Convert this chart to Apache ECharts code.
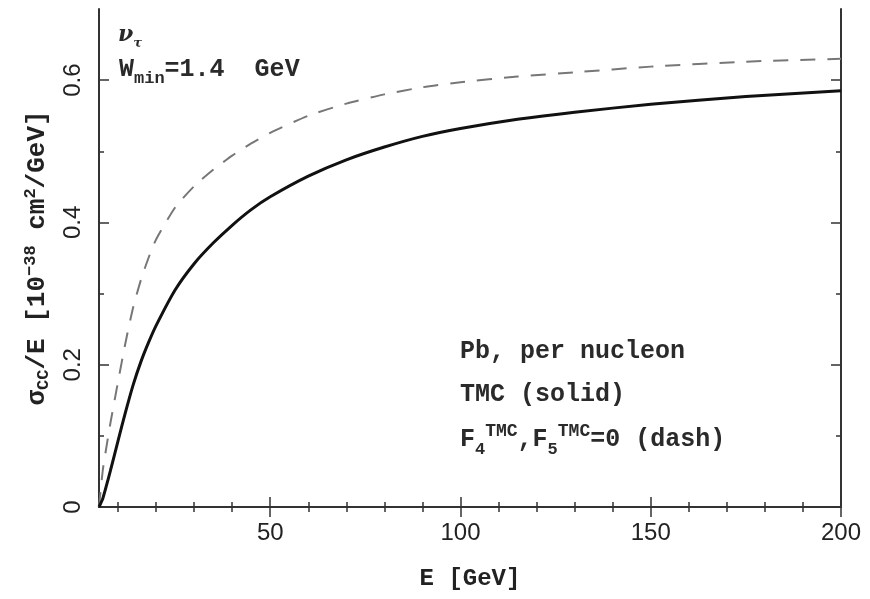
<!DOCTYPE html>
<html>
<head>
<meta charset="utf-8">
<script src="https://cdn.jsdelivr.net/npm/echarts@6/dist/echarts.min.js"></script>
<style>
  html, body { margin: 0; padding: 0; background: #fff; }
  #chart { width: 870px; height: 599px; }
</style>
</head>
<body>
<div id="chart"></div>
<script>
// neutrino energy E [GeV]
var energy = [5, 6, 7, 8, 10, 12, 14, 16, 18, 20, 25, 30, 35, 40, 45, 50, 60, 70, 80, 90, 100, 115, 130, 150, 175, 200];
// TMC (solid)
var tmcSolid = [0, 0.012, 0.031, 0.051, 0.093, 0.134, 0.172, 0.204, 0.231, 0.255, 0.305, 0.342, 0.371, 0.396, 0.418, 0.436, 0.465, 0.488, 0.506, 0.521, 0.532, 0.545, 0.555, 0.566, 0.577, 0.585];
// F4, F5 TMC = 0 (dash)
var f45Dash = [0, 0.052, 0.086, 0.118, 0.176, 0.232, 0.281, 0.319, 0.350, 0.376, 0.421, 0.451, 0.474, 0.494, 0.511, 0.526, 0.550, 0.567, 0.580, 0.590, 0.597, 0.605, 0.611, 0.619, 0.626, 0.630];

// tick positions
var xMajor = [50, 100, 150, 200];
var xMinor = [10, 20, 30, 40, 60, 70, 80, 90, 110, 120, 130, 140, 160, 170, 180, 190];
var yMajor = [0, 0.2, 0.4, 0.6];
var yMinor = [0.1, 0.3, 0.5];

var axisColor = "#333";
var textFont = "Liberation Mono";

function pairs(xs, ys) {
  return xs.map(function (x, i) { return [x, ys[i]]; });
}

// one axis per tick set (major / minor), the major one draws the frame line
function xAx(pos, ticks, len, showLine, withLabels) {
  return {
    type: "value",
    position: pos,
    min: 5,
    max: 200,
    axisLine: { show: showLine, lineStyle: { color: axisColor, width: 2 } },
    axisTick: { inside: true, length: len, customValues: ticks, lineStyle: { color: axisColor, width: 1.5 } },
    axisLabel: withLabels
      ? { customValues: ticks, fontFamily: "Liberation Sans", fontSize: 24, color: "#222", margin: 14 }
      : { show: false },
    splitLine: { show: false }
  };
}
function yAx(pos, ticks, len, showLine, withLabels) {
  return {
    type: "value",
    position: pos,
    min: 0,
    max: 0.7,
    axisLine: { show: showLine, lineStyle: { color: axisColor, width: 2 } },
    axisTick: { inside: true, length: len, customValues: ticks, lineStyle: { color: axisColor, width: 1.5 } },
    axisLabel: withLabels
      ? { customValues: ticks, rotate: 90, fontFamily: "Liberation Sans", fontSize: 24, color: "#222", margin: 14 }
      : { show: false },
    splitLine: { show: false }
  };
}

var xBottom = xAx("bottom", xMajor, 10, true, true);
xBottom.name = "E [GeV]";
xBottom.nameLocation = "middle";
xBottom.nameGap = 60;
xBottom.nameTextStyle = { fontFamily: textFont, fontWeight: "bold", fontSize: 24, color: "#222" };

var yLeft = yAx("left", yMajor, 10, true, true);
yLeft.name = "{t|σ}{sub|CC}{t|/E [10}{sup|−38}{t| cm}{sup|2}{t|/GeV]}";
yLeft.nameLocation = "middle";
yLeft.nameGap = 47;
yLeft.nameTextStyle = {
  rich: {
    t: { fontFamily: textFont, fontWeight: "bold", fontSize: 26, color: "#222", lineHeight: 30, verticalAlign: "middle" },
    sup: { fontFamily: textFont, fontWeight: "bold", fontSize: 17, color: "#222", lineHeight: 16, verticalAlign: "top" },
    sub: { fontFamily: textFont, fontWeight: "bold", fontSize: 17, color: "#222", lineHeight: 16, verticalAlign: "bottom" }
  }
};

var richText = {
  t: { fontFamily: textFont, fontWeight: "bold", fontSize: 25, fill: "#2a2a2a", lineHeight: 36, verticalAlign: "middle" },
  sup: { fontFamily: textFont, fontWeight: "bold", fontSize: 18, fill: "#2a2a2a", lineHeight: 16, verticalAlign: "top" },
  sub: { fontFamily: textFont, fontWeight: "bold", fontSize: 17, fill: "#2a2a2a", lineHeight: 16, verticalAlign: "bottom" },
  nu: { fontFamily: "DejaVu Serif", fontStyle: "italic", fontWeight: "bold", fontSize: 22, fill: "#2a2a2a", lineHeight: 30, verticalAlign: "middle" },
  tau: { fontFamily: "DejaVu Serif", fontStyle: "italic", fontWeight: "bold", fontSize: 13, fill: "#2a2a2a", lineHeight: 13, verticalAlign: "bottom" }
};

function label(x, y, text) {
  return { type: "text", left: x, top: y, style: { text: text, rich: richText } };
}

var chart = echarts.init(document.getElementById("chart"), null, { renderer: "canvas" });

var option = {
  backgroundColor: "#fff",
  animation: false,
  grid: { left: 99, right: 29, top: 9, bottom: 92, containLabel: false },
  xAxis: [
    xBottom,
    xAx("bottom", xMinor, 5, false, false),
    xAx("top", xMajor, 10, true, false),
    xAx("top", xMinor, 5, false, false)
  ],
  yAxis: [
    yLeft,
    yAx("left", yMinor, 5, false, false),
    yAx("right", yMajor, 10, true, false),
    yAx("right", yMinor, 5, false, false)
  ],
  // labels inside the frame
  graphic: [
    label(118, 24, "{nu|ν}{tau|τ}"),
    label(119, 57, "{t|W}{sub|min}{t|=1.4  GeV}"),
    label(460, 339, "{t|Pb, per nucleon}"),
    label(460, 382, "{t|TMC (solid)}"),
    label(460, 422, "{t|F}{sub|4}{sup|TMC}{t|,F}{sub|5}{sup|TMC}{t|=0 (dash)}")
  ],
  series: [
    {
      name: "F4,F5 TMC = 0",
      type: "line",
      data: pairs(energy, f45Dash),
      showSymbol: false,
      smooth: 0.2,
      lineStyle: { color: "#777", width: 2, type: [15, 12] }
    },
    {
      name: "TMC",
      type: "line",
      data: pairs(energy, tmcSolid),
      showSymbol: false,
      smooth: 0.2,
      lineStyle: { color: "#111", width: 3 }
    }
  ]
};

option && chart.setOption(option);
</script>
</body>
</html>
